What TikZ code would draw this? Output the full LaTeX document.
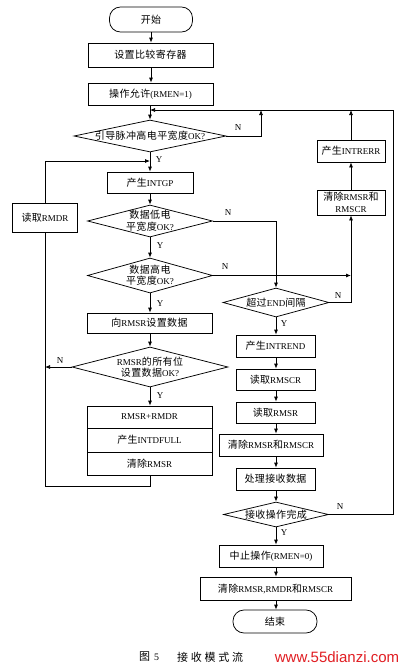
\documentclass[tikz,border=0pt]{standalone}
\usepackage{fontspec}
\setmainfont{Liberation Serif}[Scale=0.9]
\newfontfamily\cjk{Noto Sans CJK SC}[LetterSpace=4]
\newfontfamily\cjkcap{Noto Sans CJK SC}[LetterSpace=25]
\newfontfamily\wmfont{Liberation Sans}
\usetikzlibrary{shapes.geometric,arrows.meta}
\definecolor{wmred}{RGB}{225,30,35}
\newcommand{\zh}[1]{{\cjk #1}}
\begin{document}
\begin{tikzpicture}[x=1pt,y=-1pt,
  base/.style={draw, line width=0.75pt, inner sep=1pt, align=center, font=\fontsize{10}{11.5}\selectfont},
  box/.style={base, rectangle},
  term/.style={base, rectangle, rounded corners=11pt},
  dia/.style={base, diamond, inner sep=-4pt},
  arr/.style={line width=0.75pt, -{Latex[length=5pt,width=4pt]}},
  ln/.style={line width=0.75pt},
  lab/.style={inner sep=0pt, font=\fontsize{10}{11}\selectfont}]
\useasboundingbox (0,0) rectangle (406,667);
\fill[white] (0,0) rectangle (406,667);
% main column
\node[term, minimum width=83pt, minimum height=25pt] (start) at (151,19.5) {\zh{开始}};
\node[box, minimum width=125pt, minimum height=24pt] (set) at (150.5,55) {\zh{设置比较寄存器}};
\node[box, minimum width=125pt, minimum height=22pt] (en) at (150.5,94) {\zh{操作允许}(RMEN=1)};
\node[dia, aspect=4.75, minimum width=152pt, minimum height=32pt] (d1) at (150,136) {\zh{引导脉冲高电平宽度}OK?};
\node[box, minimum width=86pt, minimum height=21pt] (intgp) at (150,182.5) {\zh{产生}INTGP};
\node[box, minimum width=65pt, minimum height=29pt] (rmdr) at (45,217.5) {\zh{读取}RMDR};
\node[dia, aspect=3.9, minimum width=125pt, minimum height=32pt] (d2) at (150,221) {\zh{数据低电}\\\zh{平宽度}OK?};
\node[dia, aspect=3.57, minimum width=125pt, minimum height=35pt] (d3) at (150,275.5) {\zh{数据高电}\\\zh{平宽度}OK?};
\node[box, minimum width=125pt, minimum height=20pt] (sd) at (149.5,323) {\zh{向}RMSR\zh{设置数据}};
\node[dia, aspect=3.9, minimum width=156pt, minimum height=40pt] (d4) at (150,367) {RMSR\zh{的所有位}\\\zh{设置数据}OK?};
\node[box, minimum width=125pt, minimum height=22pt] (s1) at (149.5,417) {RMSR+RMDR};
\node[box, minimum width=125pt, minimum height=24pt] (s2) at (149.5,440) {\zh{产生}INTDFULL};
\node[box, minimum width=125pt, minimum height=23pt] (s3) at (149.5,463.5) {\zh{清除}RMSR};
% right column
\node[box, minimum width=68pt, minimum height=22pt] (intrerr) at (351,151) {\zh{产生}INTRERR};
\node[box, minimum width=68pt, minimum height=25pt] (clr1) at (351,202.5) {\zh{清除}RMSR\zh{和}\\RMSCR};
\node[dia, aspect=3.66, minimum width=106pt, minimum height=29pt] (d5) at (276,302.5) {\zh{超过}END\zh{间隔}};
\node[box, minimum width=79pt, minimum height=22pt] (intrend) at (275.5,346) {\zh{产生}INTREND};
\node[box, minimum width=79pt, minimum height=21pt] (rdscr) at (275.5,379.5) {\zh{读取}RMSCR};
\node[box, minimum width=79pt, minimum height=21pt] (rdrmsr) at (275.5,412.5) {\zh{读取}RMSR};
\node[box, minimum width=104pt, minimum height=22pt] (clr2) at (271,445) {\zh{清除}RMSR\zh{和}RMSCR};
\node[box, minimum width=79pt, minimum height=22pt] (proc) at (275.5,479) {\zh{处理接收数据}};
\node[dia, aspect=4.2, minimum width=105pt, minimum height=25pt] (d6) at (276,514.5) {\zh{接收操作完成}};
\node[box, minimum width=104pt, minimum height=22pt] (stop) at (271,556) {\zh{中止操作}(RMEN=0)};
\node[box, minimum width=151pt, minimum height=23pt] (clr3) at (275.5,588.5) {\zh{清除}RMSR,RMDR\zh{和}RMSCR};
\node[term, minimum width=84pt, minimum height=23pt] (end) at (275,621.5) {\zh{结束}};
% junction coordinates
\coordinate (j1) at (150,110);
\coordinate (j2) at (261,110);
\coordinate (rtop) at (393,110);
\coordinate (j3) at (150,161);
\coordinate (lb) at (150,486);
% main connectors
\draw[arr] (start) -- (start |- set.north);
\draw[arr] (set.south -| start) -- (start |- en.north);
\draw[arr] (en.south -| d1) -- (d1.north);
\draw[arr] (d1.east) -| (j2);
\draw[arr] (d6.east) -| (rtop) -- (j1);
\draw[arr] (intrerr.north) -- (intrerr.north |- j1);
\draw[arr] (clr1) -- (intrerr);
\draw[arr] (d5.east) -| (clr1.south);
\draw[arr] (d3.east) -- (d3.east -| clr1.south);
\draw[arr] (d2.east) -| (d5.north);
\draw[arr] (d1.south) -- (intgp.north -| d1);
\draw[arr] (intgp.south -| d2) -- (d2.north);
\draw[arr] (d2) -- (d3);
\draw[arr] (d3.south) -- (d3.south |- sd.north);
\draw[arr] (sd.south -| d4) -- (d4.north);
\draw[arr] (d4.south) -- (d4.south |- s1.north);
\draw[arr] (d4.west) -- (d4.west -| rmdr);
\draw[ln] (s3.south -| lb) -- (lb) -| (rmdr.south);
\draw[arr] (rmdr.north) |- (j3);
% right column connectors
\draw[arr] (d5.south) -- (d5.south |- intrend.north);
\draw[arr] (intrend.south -| d5) -- (d5 |- rdscr.north);
\draw[arr] (rdscr.south -| d5) -- (d5 |- rdrmsr.north);
\draw[arr] (rdrmsr.south -| d5) -- (d5 |- clr2.north);
\draw[arr] (clr2.south -| d5) -- (d5 |- proc.north);
\draw[arr] (proc.south -| d5) -- (d5.north |- d6.north);
\draw[arr] (d6.south) -- (d6.south |- stop.north);
\draw[arr] (stop.south -| d6) -- (d6 |- clr3.north);
\draw[arr] (clr3.south -| d6) -- (d6 |- end.north);
% labels
\node[lab] (n1) at (238,128) {N};
\node[lab] (y1) at (159,160) {Y};
\node[lab] (n2) at (228,213) {N};
\node[lab] (y2) at (160,246) {Y};
\node[lab] (n3) at (225,267) {N};
\node[lab] (y3) at (160,304) {Y};
\node[lab] (n4) at (60,361) {N};
\node[lab] (y4) at (160,396) {Y};
\node[lab] (n5) at (338,296) {N};
\node[lab] (y5) at (284,324) {Y};
\node[lab] (n6) at (340,507) {N};
\node[lab] (y6) at (284,533) {Y};
% caption
\node[inner sep=0pt, anchor=west, font=\fontsize{11}{13}\selectfont] (cap1) at (139,657) {{\cjkcap 图}\hspace{4pt}5};
\node[inner sep=0pt, anchor=west, font=\fontsize{11}{13}\selectfont] (cap2) at (177,657) {\cjkcap 接收模式流};
\node[inner sep=0pt, text=wmred, font=\wmfont\fontsize{15}{17}\selectfont] (wm) at (337,657) {www.55dianzi.com};
\end{tikzpicture}
\end{document}
